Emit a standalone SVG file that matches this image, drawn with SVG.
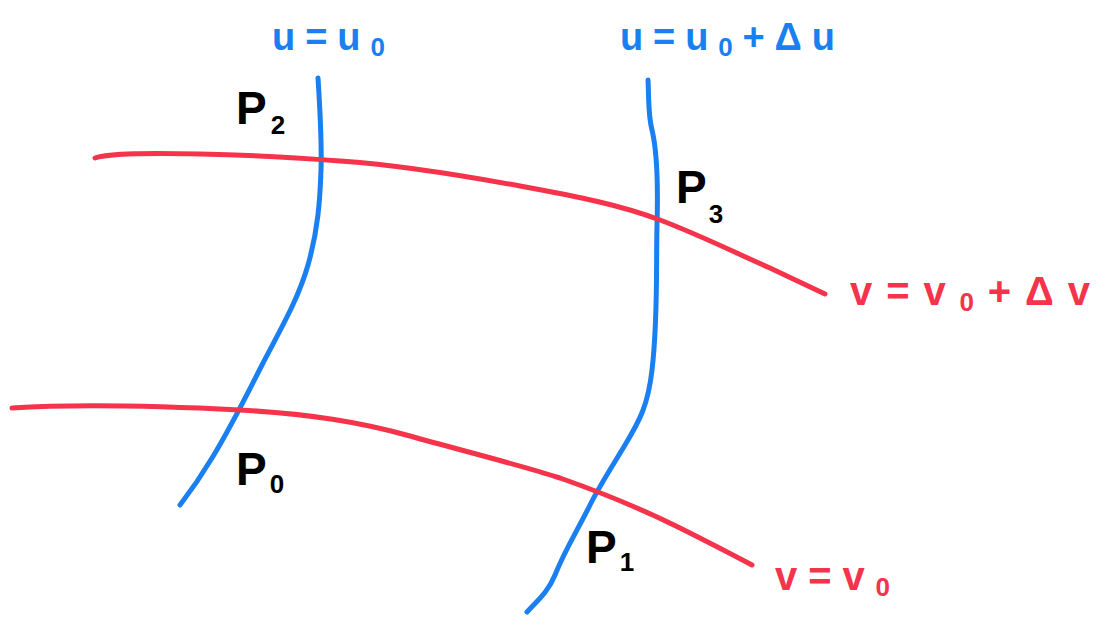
<svg xmlns="http://www.w3.org/2000/svg" width="1096" height="618" viewBox="0 0 1096 618">
<style>
.b{fill:none;stroke:#1a7ff0;stroke-width:5;stroke-linecap:round;stroke-linejoin:round}
.r{fill:none;stroke:#f5334a;stroke-width:5;stroke-linecap:round;stroke-linejoin:round}
.tb{fill:#1a7ff0;font-family:"Liberation Sans",Arial,sans-serif;font-size:38px;font-weight:bold}
.tr{fill:#f5334a;font-family:"Liberation Sans",Arial,sans-serif;font-size:40px;font-weight:bold}
.tk{fill:#000;font-family:"Liberation Sans",Arial,sans-serif;font-size:46px;font-weight:bold}
.s{font-size:26px}
</style>
<rect width="1096" height="618" fill="#fff"/>
<g id="connectors">
<path class="b" d="M318,78 C320,110 322,140 321,170 C320,200 318,230 308,265 C298,300 280,330 262,365 C245,398 232,425 212,458 C200,478 190,492 180,505"/>
<path class="b" d="M648,80 C649,100 648,115 652,130 C658,155 658,190 657,225 C656,270 658,320 652,370 C648,405 640,420 625,445 C610,470 600,485 590,505 C575,535 565,550 555,575 C548,592 538,600 527,612"/>
<path class="r" d="M95,158 C110,153 150,153 200,154 C250,155 300,158 340,161 C400,165 460,175 520,186 C580,197 620,205 660,220 C700,235 740,255 770,268 C795,280 810,287 825,294"/>
<path class="r" d="M12,408 C60,405 140,405 240,410 C310,414 360,422 410,436 C460,450 520,465 560,478 C600,492 640,508 680,528 C710,543 735,556 752,565"/>
</g>
<g id="label-u0"><text class="tb" x="272" y="50" textLength="113">u=u<tspan class="s" dy="6">0</tspan></text></g>
<g id="label-u0du"><text class="tb" x="620" y="50" textLength="215">u=u<tspan class="s" dy="6">0</tspan><tspan dy="-6">+Δu</tspan></text></g>
<g id="label-v0dv"><text class="tr" x="850" y="305" textLength="240">v=v<tspan class="s" dy="6">0</tspan><tspan dy="-6">+Δv</tspan></text></g>
<g id="label-v0"><text class="tr" x="775" y="590" textLength="115">v=v<tspan class="s" dy="6">0</tspan></text></g>
<g id="P2"><text class="tk" x="236" y="124">P<tspan class="s" dx="4" dy="10">2</tspan></text></g>
<g id="P3"><text class="tk" x="676" y="203">P<tspan class="s" dx="2" dy="20">3</tspan></text></g>
<g id="P0"><text class="tk" x="236" y="485">P<tspan class="s" dx="3" dy="8">0</tspan></text></g>
<g id="P1"><text class="tk" x="586" y="563">P<tspan class="s" dx="3" dy="8">1</tspan></text></g>
</svg>
